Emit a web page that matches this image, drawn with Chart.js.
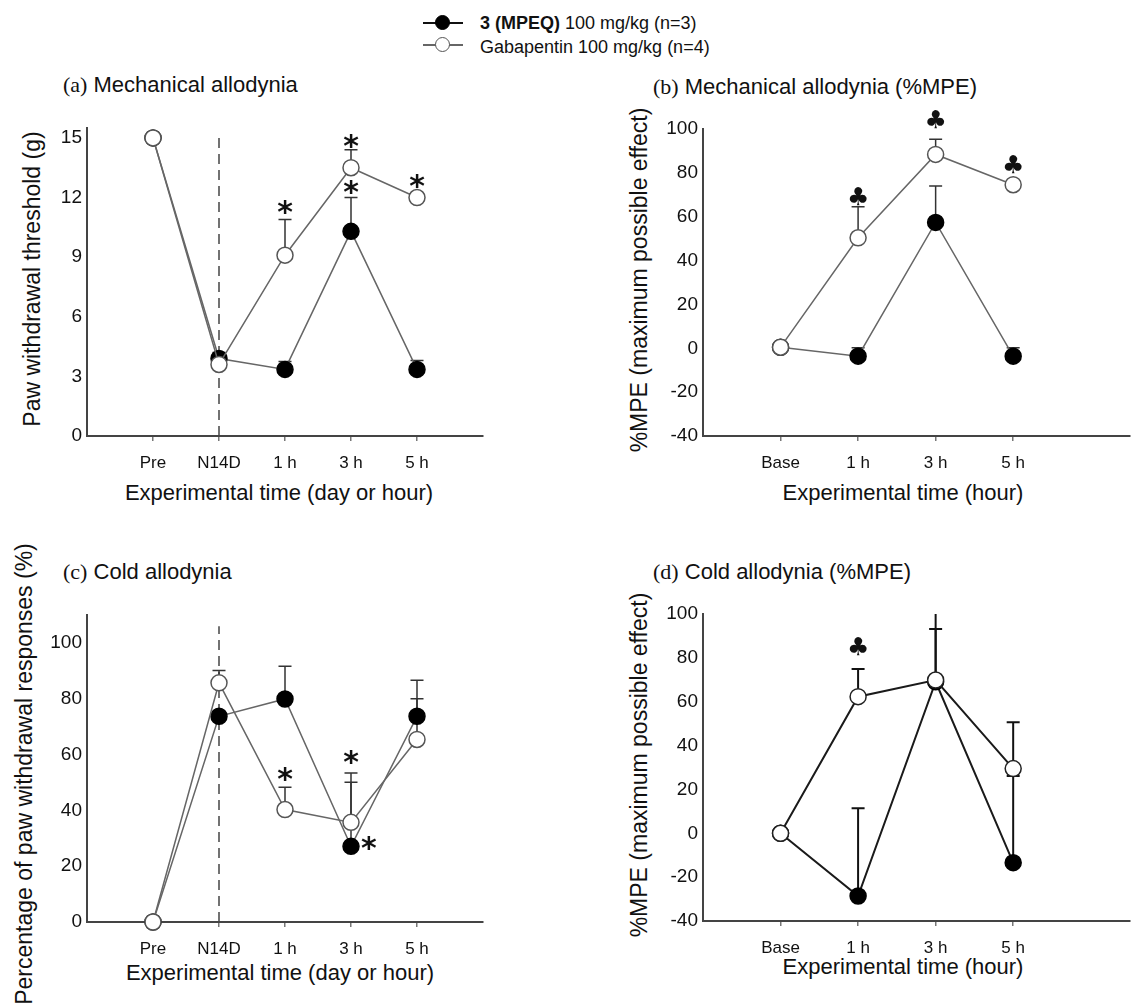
<!DOCTYPE html>
<html>
<head>
<meta charset="utf-8">
<script src="https://cdn.jsdelivr.net/npm/chart.js@4.4.0/dist/chart.umd.min.js"></script>
<style>
  body { margin: 0; background: #fff; width: 1139px; height: 1005px; position: relative; overflow: hidden;
         font-family: "Liberation Sans", Arial, sans-serif; color: #111; }
  .box { position: absolute; }
  .ptitle { position: absolute; font-size: 22px; line-height: 26px; white-space: nowrap; }
  .ptitle span { font-family: "Liberation Serif", "Times New Roman", serif; }
  .xt { position: absolute; font-size: 22px; line-height: 26px; transform: translate(-50%, -50%); white-space: nowrap; }
  .yt { position: absolute; font-size: 23px; line-height: 26px; transform: translate(-50%, -50%) rotate(-90deg); white-space: nowrap; }
  .leg { position: absolute; left: 423px; height: 20px; font-size: 18px; line-height: 20px; white-space: nowrap; }
  .leg .ln { position: absolute; left: 0; top: 9px; width: 40px; height: 2px; }
  .leg .dot { position: absolute; left: 12px; top: 2px; width: 13px; height: 13px; border-radius: 50%; border: 1.5px solid; }
  .leg .txt { position: absolute; left: 57px; top: 0; }
</style>
</head>
<body>

<div class="leg" style="top:13px">
  <div class="ln" style="background:#111"></div>
  <div class="dot" style="background:#000;border-color:#000"></div>
  <div class="txt"><b>3 (MPEQ)</b> 100 mg/kg (n=3)</div>
</div>
<div class="leg" style="top:35px">
  <div class="ln" style="background:#666"></div>
  <div class="dot" style="background:#fff;border-color:#555"></div>
  <div class="txt" style="top:2px">Gabapentin 100 mg/kg (n=4)</div>
</div>

<div class="ptitle" style="left:63px;top:72px"><span>(a)</span> Mechanical allodynia</div>
<div class="ptitle" style="left:653px;top:74px"><span>(b)</span> Mechanical allodynia (%MPE)</div>
<div class="ptitle" style="left:63px;top:559px"><span>(c)</span> Cold allodynia</div>
<div class="ptitle" style="left:653px;top:559px"><span>(d)</span> Cold allodynia (%MPE)</div>

<div class="yt" style="left:32px;top:279px">Paw withdrawal threshold (g)</div>
<div class="yt" style="left:639px;top:280px">%MPE (maximum possible effect)</div>
<div class="yt" style="left:24px;top:774px">Percentage of paw withdrawal responses (%)</div>
<div class="yt" style="left:639px;top:765px">%MPE (maximum possible effect)</div>

<div class="xt" style="left:279px;top:493px">Experimental time (day or hour)</div>
<div class="xt" style="left:903px;top:493px">Experimental time (hour)</div>
<div class="xt" style="left:280px;top:973px">Experimental time (day or hour)</div>
<div class="xt" style="left:903px;top:967px">Experimental time (hour)</div>

<div class="box" style="left:0;top:103px;width:500px;height:407px"><canvas id="chartA"></canvas></div>
<div class="box" style="left:570px;top:104px;width:569px;height:406px"><canvas id="chartB"></canvas></div>
<div class="box" style="left:0;top:590px;width:500px;height:410px"><canvas id="chartC"></canvas></div>
<div class="box" style="left:570px;top:589px;width:569px;height:411px"><canvas id="chartD"></canvas></div>

<script>
const timeLabels = ['Pre', 'N14D', '1 h', '3 h', '5 h'];
const hourLabels = ['Base', '1 h', '3 h', '5 h'];

// (a) mechanical allodynia, threshold in g
const mpeqMech = [15, 3.9, 3.35, 10.3, 3.35];
const mpeqMechErr = [null, 4.2, 3.75, 12.0, 3.8];
const gabaMech = [15, 3.6, 9.1, 13.5, 12.0];
const gabaMechErr = [null, null, 10.9, 14.4, null];
const mechStars = [[2, 11.5], [3, 14.8], [3, 12.5], [4, 12.8]];
const mechTicks = [0, 3, 6, 9, 12, 15];

// (b) mechanical allodynia, %MPE
const mpeqMechMpe = [0.5, -3.6, 57.4, -3.6];
const mpeqMechMpeErr = [null, 0.3, 74, 0.3];
const gabaMechMpe = [0.5, 50.4, 88.4, 74.6];
const gabaMechMpeErr = [null, 64.5, 95.3, null];
const mechMpeClubs = [[1, 69.4], [2, 104.4], [3, 83.6]];
const mpeTicks = [-40, -20, 0, 20, 40, 60, 80, 100];

// (c) cold allodynia, % responses
const mpeqCold = [0, 73.7, 79.9, 27.1, 73.7];
const mpeqColdErr = [null, null, 91.6, 50.1, 86.6];
const gabaCold = [0, 85.7, 40.3, 35.7, 65.4];
const gabaColdErr = [null, 90.1, 48.3, 53.4, 80];
const coldStars = [[2, 52.8], [3, 58.8], [3.27, 28.3]];
const coldTicks = [0, 20, 40, 60, 80, 100];

// (d) cold allodynia, %MPE
const mpeqColdMpe = [0, -28.6, 69.1, -13.4];
const mpeqColdMpeErr = [null, 11.4, 101, 26.1];
const gabaColdMpe = [0, 62.3, 69.9, 29.5];
const gabaColdMpeErr = [null, 74.9, 93.2, 50.6];
const coldMpeClubs = [[1, 85.4]];

const extras = {
    id: 'extras',
    beforeDatasetsDraw(chart, args, opts) {
        const {ctx, chartArea, scales: {x, y}} = chart;
        ctx.save();
        if (opts.vline) {
            const px = x.getPixelForValue(opts.vline[0]);
            ctx.strokeStyle = '#444';
            ctx.lineWidth = 1.5;
            ctx.setLineDash([10, 6]);
            ctx.beginPath();
            ctx.moveTo(px, y.getPixelForValue(0));
            ctx.lineTo(px, y.getPixelForValue(opts.vline[1]));
            ctx.stroke();
            ctx.setLineDash([]);
        }
        ctx.beginPath();
        ctx.rect(chartArea.left, chartArea.top, chartArea.right - chartArea.left, chartArea.bottom - chartArea.top);
        ctx.clip();
        ctx.strokeStyle = opts.errColor;
        ctx.lineWidth = opts.errWidth;
        chart.data.datasets.forEach(ds => {
            (ds.errUp || []).forEach((e, i) => {
                if (e == null) return;
                const px = x.getPixelForValue(ds.data[i].x);
                const p0 = y.getPixelForValue(ds.data[i].y);
                const p1 = y.getPixelForValue(e);
                ctx.beginPath();
                ctx.moveTo(px, p0);
                ctx.lineTo(px, p1);
                ctx.moveTo(px - 6.5, p1);
                ctx.lineTo(px + 6.5, p1);
                ctx.stroke();
            });
        });
        ctx.restore();
    },
    afterDatasetsDraw(chart, args, opts) {
        const {ctx, scales: {x, y}} = chart;
        ctx.save();
        ctx.fillStyle = '#111';
        ctx.textAlign = 'center';
        ctx.textBaseline = 'alphabetic';
        ctx.font = opts.markFont;
        (opts.marks || []).forEach(m => {
            const t = ctx.measureText(opts.mark);
            const off = (t.actualBoundingBoxAscent - t.actualBoundingBoxDescent) / 2;
            ctx.fillText(opts.mark, x.getPixelForValue(m[0]), y.getPixelForValue(m[1]) + off);
        });
        ctx.restore();
    }
};

function pts(vals) {
    return vals.map((v, i) => ({x: i, y: v}));
}

function panel(id, labels, mpeq, mpeqErr, gaba, gabaErr, o) {
    const lineColor = o.dark ? '#1a1a1a' : '#666';
    const lw = o.dark ? 2 : 1.5;
    new Chart(document.getElementById(id), {
        type: 'line',
        data: {
            datasets: [{
                label: 'Gabapentin 100 mg/kg (n=4)',
                data: pts(gaba),
                errUp: gabaErr,
                borderColor: lineColor,
                borderWidth: lw,
                pointRadius: 8,
                pointBackgroundColor: '#fff',
                pointBorderColor: o.dark ? '#222' : '#555',
                pointBorderWidth: 1.5,
                tension: 0,
                clip: false
            }, {
                label: '3 (MPEQ) 100 mg/kg (n=3)',
                data: pts(mpeq),
                errUp: mpeqErr,
                borderColor: lineColor,
                borderWidth: lw,
                pointRadius: 8,
                pointBackgroundColor: '#000',
                pointBorderColor: '#000',
                pointBorderWidth: 1.5,
                tension: 0,
                clip: false
            }]
        },
        options: {
            responsive: true,
            maintainAspectRatio: false,
            animation: false,
            layout: {padding: {top: 25, right: o.padRight, left: 0, bottom: 0}},
            plugins: {
                legend: {display: false},
                tooltip: {enabled: false},
                extras: {
                    vline: o.vline,
                    marks: o.marks,
                    mark: o.mark,
                    markFont: o.mark === '*' ? 'bold 30px "DejaVu Sans"' : '25px "DejaVu Sans"',
                    errColor: o.dark ? '#111' : '#333',
                    errWidth: o.dark ? 2 : 1.5
                }
            },
            scales: {
                x: {
                    type: 'linear',
                    min: -1,
                    max: o.xMax,
                    afterBuildTicks: s => { s.ticks = labels.map((l, i) => ({value: i})); },
                    afterFit: s => { s.height = o.axisH; },
                    ticks: {
                        callback: v => labels[v],
                        color: '#111',
                        padding: 12,
                        maxRotation: 0,
                        font: {family: '"Liberation Sans", Arial', size: 17}
                    },
                    grid: {drawOnChartArea: false, drawTicks: true, tickLength: 5, color: '#777', lineWidth: 1.5},
                    border: {display: true, color: '#444', width: 2}
                },
                y: {
                    type: 'linear',
                    min: o.yMin,
                    max: o.yMax,
                    afterBuildTicks: s => { s.ticks = o.yTicks.map(v => ({value: v})); },
                    afterFit: s => { s.width = o.axisW; },
                    ticks: {
                        color: '#111',
                        padding: 5,
                        font: {family: '"Liberation Sans", Arial', size: 19}
                    },
                    grid: {drawOnChartArea: false, drawTicks: false},
                    border: {display: true, color: '#444', width: 2}
                }
            }
        },
        plugins: [extras]
    });
}

panel('chartA', timeLabels, mpeqMech, mpeqMechErr, gabaMech, gabaMechErr, {
    yMin: 0, yMax: 15.5, yTicks: mechTicks, xMax: 5, axisW: 87, axisH: 74, padRight: 17,
    vline: [1, 15], marks: mechStars, mark: '*'
});
panel('chartB', hourLabels, mpeqMechMpe, mpeqMechMpeErr, gabaMechMpe, gabaMechMpeErr, {
    yMin: -40, yMax: 100, yTicks: mpeTicks, xMax: 4.5, axisW: 133, axisH: 74, padRight: 1,
    marks: mechMpeClubs, mark: '\u2663'
});
panel('chartC', timeLabels, mpeqCold, mpeqColdErr, gabaCold, gabaColdErr, {
    yMin: 0, yMax: 110, yTicks: coldTicks, xMax: 5, axisW: 87, axisH: 78, padRight: 17,
    vline: [1, 106], marks: coldStars, mark: '*'
});
panel('chartD', hourLabels, mpeqColdMpe, mpeqColdMpeErr, gabaColdMpe, gabaColdMpeErr, {
    yMin: -40, yMax: 100, yTicks: mpeTicks, xMax: 4.5, axisW: 133, axisH: 79, padRight: 1,
    marks: coldMpeClubs, mark: '\u2663', dark: true
});
</script>
</body>
</html>
